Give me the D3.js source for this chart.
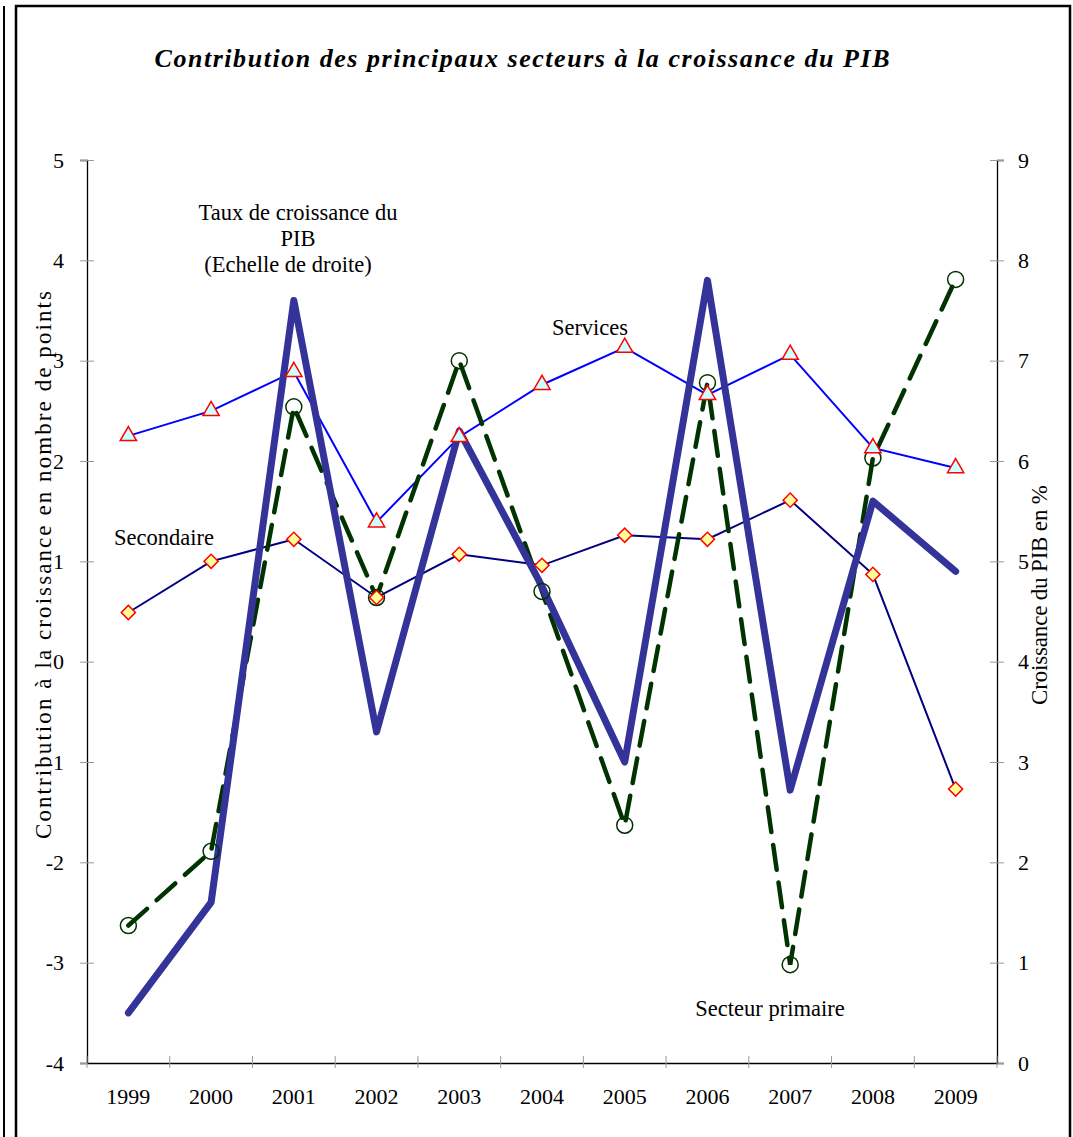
<!DOCTYPE html>
<html>
<head>
<meta charset="utf-8">
<script src="https://cdn.jsdelivr.net/npm/d3@7"></script>
<style>
  body { margin: 0; background: #fff; }
  svg text { font-family: "Liberation Serif", "DejaVu Serif", serif; fill: #000; }
</style>
</head>
<body>
<script>
// Chart data
const years = ["1999", "2000", "2001", "2002", "2003", "2004", "2005", "2006", "2007", "2008", "2009"];
const services = [2.25, 2.5, 2.89, 1.39, 2.24, 2.76, 3.13, 2.66, 3.06, 2.13, 1.93];
const secondaire = [0.49, 1.0, 1.22, 0.64, 1.07, 0.96, 1.26, 1.22, 1.61, 0.87, -1.27];
const primaire = [-2.63, -1.89, 2.54, 0.64, 3.0, 0.7, -1.63, 2.78, -3.02, 2.03, 3.81];
const pib = [0.5, 1.6, 7.6, 3.3, 6.3, 4.75, 3.0, 7.8, 2.72, 5.6, 4.9];
const leftTicks = [-4, -3, -2, -1, 0, 1, 2, 3, 4, 5];
const rightTicks = [0, 1, 2, 3, 4, 5, 6, 7, 8, 9];

const width = 1073, height = 1137;
const plotLeft = 87, plotRight = 997, plotTop = 160, plotBottom = 1063;

const svg = d3.select("body").append("svg")
    .attr("width", width)
    .attr("height", height);

// frame
svg.append("line").attr("x1", 4).attr("x2", 4).attr("y1", 6).attr("y2", height)
    .attr("stroke", "#000").attr("stroke-width", 2);
svg.append("path")
    .attr("d", `M16,${height} L16,6 L1070,6 L1070,${height}`)
    .attr("fill", "none").attr("stroke", "#000").attr("stroke-width", 2.5);

// title
svg.append("text")
    .attr("x", 522).attr("y", 67)
    .attr("text-anchor", "middle")
    .attr("textLength", 735)
    .style("font-size", "26px")
    .style("font-weight", "bold")
    .style("font-style", "italic")
    .text("Contribution des principaux secteurs à la croissance du PIB");

const x = d3.scaleBand().domain(years).range([plotLeft, plotRight]);
const yL = d3.scaleLinear().domain([-4, 5]).range([plotBottom, plotTop]);
const yR = d3.scaleLinear().domain([0, 9]).range([plotBottom, plotTop]);
const cx = d => x(d) + x.bandwidth() / 2;

// axes
const fmt = d => String(d);
const gL = svg.append("g").attr("transform", `translate(${plotLeft},0)`)
    .call(d3.axisLeft(yL).tickValues(leftTicks).tickFormat(fmt).tickSize(7).tickPadding(16));
const gR = svg.append("g").attr("transform", `translate(${plotRight},0)`)
    .call(d3.axisRight(yR).tickValues(rightTicks).tickFormat(fmt).tickSize(7).tickPadding(14));
const gX = svg.append("g").attr("transform", `translate(0,${plotBottom})`)
    .call(d3.axisBottom(x).tickSize(0).tickPadding(25));

[gL, gR, gX].forEach(g => {
    g.select(".domain").attr("stroke", "#000").attr("stroke-width", 1.3);
    g.selectAll("text").style("font-size", "22px")
        .style("font-family", "'Liberation Serif', serif");
});
gL.selectAll(".tick line").attr("x2", 7).attr("x1", -7).attr("stroke", "#999");
gR.selectAll(".tick line").attr("x1", -7).attr("x2", 7).attr("stroke", "#999");

// x boundary ticks
const bounds = years.map(d => x(d)).concat([plotRight]);
svg.append("g").selectAll("line").data(bounds).enter().append("line")
    .attr("x1", d => d).attr("x2", d => d)
    .attr("y1", plotBottom - 7).attr("y2", plotBottom + 5)
    .attr("stroke", "#999");

// axis titles
svg.append("text")
    .attr("transform", `translate(51,565) rotate(-90)`)
    .attr("text-anchor", "middle")
    .attr("textLength", 548)
    .style("font-size", "23px")
    .text("Contribution à la croissance en nombre de points");
svg.append("text")
    .attr("transform", `translate(1047,595) rotate(-90)`)
    .attr("text-anchor", "middle")
    .attr("textLength", 220)
    .style("font-size", "23px")
    .text("Croissance du PIB en %");

// lines
const lineL = d3.line().x((d, i) => cx(years[i])).y(d => yL(d));
const lineR = d3.line().x((d, i) => cx(years[i])).y(d => yR(d));

svg.append("path").datum(services)
    .attr("d", lineL).attr("fill", "none")
    .attr("stroke", "#0000ff").attr("stroke-width", 2);
svg.append("path").datum(secondaire)
    .attr("d", lineL).attr("fill", "none")
    .attr("stroke", "#000080").attr("stroke-width", 2);
svg.append("path").datum(primaire)
    .attr("d", lineL).attr("fill", "none")
    .attr("stroke", "#003300").attr("stroke-width", 4.5)
    .attr("stroke-dasharray", "25,13").attr("stroke-linecap", "round");
svg.append("path").datum(pib)
    .attr("d", lineR).attr("fill", "none")
    .attr("stroke", "#333399").attr("stroke-width", 7)
    .attr("stroke-linejoin", "round").attr("stroke-linecap", "round");

// markers
svg.append("g").selectAll("circle").data(primaire).enter().append("circle")
    .attr("cx", (d, i) => cx(years[i])).attr("cy", d => yL(d))
    .attr("r", 8).attr("fill", "none")
    .attr("stroke", "#003300").attr("stroke-width", 1.5);

const tri = d3.symbol().type(d3.symbolTriangle).size(115);
svg.append("g").selectAll("path").data(services).enter().append("path")
    .attr("d", tri)
    .attr("transform", (d, i) => `translate(${cx(years[i])},${yL(d)})`)
    .attr("fill", "#ccffff").attr("stroke", "#ff0000").attr("stroke-width", 1.5);

const dia = d3.symbol().type(d3.symbolSquare).size(100);
svg.append("g").selectAll("path").data(secondaire).enter().append("path")
    .attr("d", dia)
    .attr("transform", (d, i) => `translate(${cx(years[i])},${yL(d)}) rotate(45)`)
    .attr("fill", "#ffff99").attr("stroke", "#ff0000").attr("stroke-width", 1.5);

// annotations
const notes = [
    { t: "Taux de croissance du", x: 298, y: 220 },
    { t: "PIB", x: 298, y: 246 },
    { t: "(Echelle de droite)", x: 288, y: 272 },
    { t: "Services", x: 590, y: 335 },
    { t: "Secondaire", x: 164, y: 545 },
    { t: "Secteur primaire", x: 770, y: 1016 }
];
svg.append("g").selectAll("text").data(notes).enter().append("text")
    .attr("x", d => d.x).attr("y", d => d.y)
    .attr("text-anchor", "middle")
    .style("font-size", "22.5px")
    .text(d => d.t);
</script>
</body>
</html>
